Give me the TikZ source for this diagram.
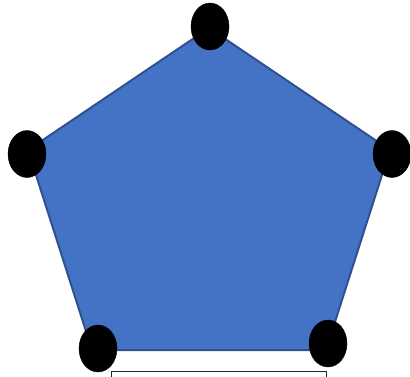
\documentclass[tikz,border=0pt]{standalone}
\usetikzlibrary{shapes.geometric}
\definecolor{penfill}{HTML}{4472C4}
\definecolor{penline}{HTML}{2F528F}
\tikzset{
  vdot/.style={ellipse, fill=black, draw=black, inner sep=0pt, minimum width=38pt, minimum height=47pt},
  pent/.style={fill=penfill, draw=penline, line width=2pt, line join=miter},
  boxline/.style={draw=black!85, line width=1.3pt}
}
\begin{document}
\begin{tikzpicture}[x=1pt,y=-1pt]
\useasboundingbox (0,0) rectangle (410,376);
\clip (0,0) rectangle (410,376);
\coordinate (pT) at (209,28);
\coordinate (pL) at (28,150);
\coordinate (pR) at (390,150);
\coordinate (pBL) at (92,350);
\coordinate (pBR) at (326,350);
\path[pent] (pT) -- (pR) -- (pBR) -- (pBL) -- (pL) -- cycle;
\node[boxline, minimum width=215pt, minimum height=30pt, inner sep=0pt, anchor=north west] (box) at (111,371) {};
\node[vdot] (vT) at (210,26.5) {};
\node[vdot] (vL) at (27,154) {};
\node[vdot] (vR) at (392,154) {};
\node[vdot] (vBL) at (98,348.5) {};
\node[vdot] (vBR) at (328,343.5) {};
\end{tikzpicture}
\end{document}
